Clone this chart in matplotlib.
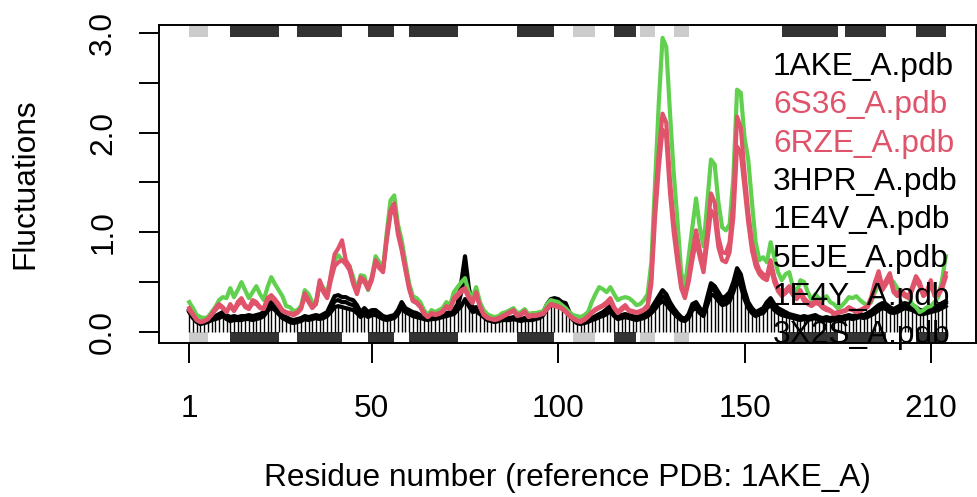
import numpy as np
import matplotlib.pyplot as plt
from matplotlib.patches import Rectangle

plt.rcParams['font.family'] = ['Liberation Sans', 'DejaVu Sans']

# fluctuaciones por posicion (indice de alineamiento 1..204)
green = [0.30, 0.24, 0.17, 0.15, 0.14, 0.15, 0.20, 0.25, 0.32, 0.35,
         0.34, 0.44, 0.35, 0.42, 0.50, 0.42, 0.34, 0.40, 0.46, 0.38,
         0.32, 0.45, 0.55, 0.48, 0.42, 0.36, 0.26, 0.25, 0.21, 0.22,
         0.26, 0.42, 0.38, 0.30, 0.28, 0.50, 0.44, 0.40, 0.55, 0.72,
         0.77, 0.72, 0.70, 0.66, 0.55, 0.42, 0.57, 0.56, 0.42, 0.55,
         0.76, 0.70, 0.64, 1.00, 1.32, 1.37, 1.08, 0.92, 0.70, 0.49,
         0.36, 0.34, 0.30, 0.22, 0.17, 0.22, 0.20, 0.22, 0.24, 0.30,
         0.27, 0.40, 0.45, 0.50, 0.54, 0.40, 0.35, 0.45, 0.30, 0.22,
         0.18, 0.16, 0.15, 0.16, 0.19, 0.20, 0.22, 0.24, 0.19, 0.20,
         0.23, 0.18, 0.19, 0.19, 0.20, 0.21, 0.28, 0.32, 0.31, 0.30,
         0.27, 0.24, 0.20, 0.17, 0.16, 0.15, 0.17, 0.20, 0.30, 0.38,
         0.45, 0.43, 0.40, 0.45, 0.38, 0.32, 0.34, 0.35, 0.34, 0.31,
         0.27, 0.28, 0.32, 0.38, 0.70, 1.50, 2.30, 2.95, 2.86, 2.20,
         1.60, 1.12, 0.60, 0.45, 0.75, 1.05, 1.34, 1.05, 0.86, 1.30,
         1.73, 1.68, 1.30, 1.05, 1.02, 1.08, 1.55, 2.43, 2.40, 1.95,
         1.73, 1.30, 0.90, 0.72, 0.75, 0.70, 0.90, 0.75, 0.60, 0.52,
         0.58, 0.60, 0.45, 0.40, 0.52, 0.50, 0.40, 0.32, 0.38, 0.34,
         0.32, 0.36, 0.30, 0.28, 0.24, 0.26, 0.30, 0.35, 0.34, 0.36,
         0.32, 0.29, 0.27, 0.30, 0.40, 0.48, 0.49, 0.50, 0.54, 0.50,
         0.44, 0.40, 0.38, 0.35, 0.28, 0.25, 0.20, 0.22, 0.25, 0.26,
         0.30, 0.35, 0.52, 0.76]

red1 = [0.24, 0.18, 0.12, 0.10, 0.11, 0.13, 0.18, 0.24, 0.28, 0.25,
        0.20, 0.28, 0.22, 0.30, 0.34, 0.27, 0.24, 0.32, 0.30, 0.25,
        0.24, 0.34, 0.37, 0.33, 0.28, 0.22, 0.20, 0.19, 0.18, 0.20,
        0.24, 0.39, 0.32, 0.25, 0.30, 0.52, 0.42, 0.35, 0.58, 0.78,
        0.84, 0.92, 0.72, 0.66, 0.50, 0.40, 0.55, 0.52, 0.45, 0.55,
        0.72, 0.66, 0.62, 0.95, 1.22, 1.29, 1.02, 0.85, 0.65, 0.45,
        0.32, 0.30, 0.26, 0.19, 0.15, 0.19, 0.18, 0.19, 0.21, 0.26,
        0.24, 0.34, 0.38, 0.42, 0.44, 0.36, 0.30, 0.40, 0.26, 0.18,
        0.15, 0.13, 0.13, 0.14, 0.16, 0.18, 0.20, 0.22, 0.17, 0.18,
        0.21, 0.16, 0.17, 0.17, 0.18, 0.19, 0.24, 0.28, 0.27, 0.26,
        0.24, 0.21, 0.17, 0.14, 0.12, 0.11, 0.13, 0.16, 0.20, 0.23,
        0.25, 0.27, 0.30, 0.34, 0.25, 0.20, 0.24, 0.27, 0.22, 0.21,
        0.20, 0.21, 0.23, 0.27, 0.55, 1.30, 1.80, 2.19, 2.10, 1.52,
        1.10, 0.79, 0.48, 0.36, 0.55, 0.80, 1.02, 0.82, 0.66, 1.00,
        1.39, 1.30, 0.95, 0.80, 0.79, 0.90, 1.30, 2.16, 2.05, 1.60,
        1.20, 0.90, 0.72, 0.62, 0.58, 0.56, 0.72, 0.55, 0.44, 0.39,
        0.42, 0.46, 0.40, 0.36, 0.42, 0.34, 0.30, 0.28, 0.31, 0.30,
        0.26, 0.24, 0.22, 0.19, 0.20, 0.21, 0.22, 0.25, 0.23, 0.21,
        0.22, 0.24, 0.26, 0.35, 0.50, 0.61, 0.45, 0.52, 0.59, 0.42,
        0.38, 0.42, 0.38, 0.36, 0.45, 0.56, 0.50, 0.38, 0.42, 0.52,
        0.38, 0.40, 0.46, 0.59]

red2 = [0.22, 0.17, 0.12, 0.10, 0.11, 0.13, 0.17, 0.22, 0.26, 0.24,
        0.20, 0.26, 0.21, 0.27, 0.31, 0.25, 0.23, 0.29, 0.28, 0.24,
        0.23, 0.32, 0.35, 0.31, 0.26, 0.21, 0.19, 0.18, 0.17, 0.19,
        0.23, 0.36, 0.30, 0.24, 0.28, 0.48, 0.40, 0.34, 0.52, 0.66,
        0.70, 0.72, 0.68, 0.62, 0.48, 0.38, 0.52, 0.50, 0.43, 0.52,
        0.70, 0.64, 0.60, 0.92, 1.18, 1.24, 0.98, 0.82, 0.62, 0.43,
        0.31, 0.29, 0.25, 0.18, 0.15, 0.18, 0.17, 0.18, 0.20, 0.25,
        0.23, 0.32, 0.36, 0.40, 0.42, 0.34, 0.29, 0.38, 0.25, 0.17,
        0.14, 0.13, 0.12, 0.13, 0.15, 0.17, 0.19, 0.21, 0.16, 0.17,
        0.20, 0.15, 0.16, 0.16, 0.17, 0.18, 0.23, 0.27, 0.26, 0.25,
        0.23, 0.20, 0.16, 0.13, 0.11, 0.10, 0.12, 0.15, 0.19, 0.22,
        0.24, 0.26, 0.28, 0.31, 0.24, 0.19, 0.22, 0.25, 0.21, 0.20,
        0.19, 0.20, 0.22, 0.25, 0.48, 1.15, 1.65, 2.03, 1.95, 1.40,
        1.00, 0.70, 0.44, 0.34, 0.50, 0.72, 0.92, 0.75, 0.60, 0.90,
        1.22, 1.15, 0.85, 0.72, 0.70, 0.80, 1.15, 1.86, 1.80, 1.45,
        1.10, 0.82, 0.66, 0.58, 0.54, 0.52, 0.66, 0.50, 0.41, 0.36,
        0.39, 0.43, 0.37, 0.33, 0.38, 0.31, 0.28, 0.26, 0.29, 0.28,
        0.24, 0.22, 0.21, 0.18, 0.19, 0.20, 0.21, 0.23, 0.22, 0.20,
        0.21, 0.23, 0.25, 0.32, 0.45, 0.55, 0.42, 0.48, 0.54, 0.40,
        0.36, 0.39, 0.36, 0.34, 0.42, 0.52, 0.46, 0.36, 0.39, 0.48,
        0.36, 0.37, 0.43, 0.55]

# estructuras en negro (1AKE es la de las barras verticales)
black1 = [0.20, 0.14, 0.10, 0.08, 0.09, 0.10, 0.12, 0.13, 0.14, 0.16,
          0.13, 0.11, 0.12, 0.12, 0.12, 0.13, 0.13, 0.12, 0.13, 0.14,
          0.16, 0.21, 0.25, 0.22, 0.18, 0.14, 0.12, 0.10, 0.09, 0.10,
          0.11, 0.13, 0.12, 0.13, 0.14, 0.13, 0.14, 0.16, 0.20, 0.25,
          0.26, 0.25, 0.24, 0.23, 0.22, 0.19, 0.15, 0.18, 0.15, 0.17,
          0.17, 0.15, 0.13, 0.12, 0.13, 0.14, 0.18, 0.25, 0.20, 0.18,
          0.16, 0.15, 0.14, 0.13, 0.12, 0.13, 0.13, 0.14, 0.15, 0.16,
          0.17, 0.18, 0.22, 0.26, 0.33, 0.26, 0.20, 0.21, 0.18, 0.15,
          0.12, 0.11, 0.10, 0.11, 0.12, 0.12, 0.12, 0.13, 0.12, 0.11,
          0.12, 0.12, 0.12, 0.13, 0.14, 0.17, 0.23, 0.27, 0.28, 0.27,
          0.25, 0.24, 0.17, 0.12, 0.09, 0.08, 0.09, 0.10, 0.12, 0.13,
          0.15, 0.16, 0.18, 0.21, 0.16, 0.13, 0.14, 0.15, 0.14, 0.13,
          0.12, 0.13, 0.14, 0.16, 0.19, 0.23, 0.28, 0.31, 0.28, 0.23,
          0.19, 0.15, 0.12, 0.11, 0.14, 0.22, 0.24, 0.19, 0.16, 0.27,
          0.38, 0.36, 0.31, 0.27, 0.28, 0.31, 0.40, 0.52, 0.46, 0.33,
          0.24, 0.19, 0.16, 0.18, 0.19, 0.24, 0.27, 0.22, 0.19, 0.17,
          0.16, 0.15, 0.14, 0.13, 0.12, 0.13, 0.12, 0.13, 0.14, 0.12,
          0.11, 0.12, 0.11, 0.12, 0.13, 0.12, 0.13, 0.14, 0.13, 0.14,
          0.15, 0.14, 0.15, 0.17, 0.19, 0.22, 0.24, 0.23, 0.20, 0.19,
          0.20, 0.22, 0.24, 0.23, 0.22, 0.20, 0.18, 0.18, 0.19, 0.20,
          0.21, 0.22, 0.24, 0.26]

black2 = [0.22, 0.16, 0.12, 0.10, 0.11, 0.12, 0.14, 0.16, 0.18, 0.20,
          0.17, 0.15, 0.16, 0.15, 0.16, 0.16, 0.17, 0.16, 0.17, 0.18,
          0.20, 0.26, 0.30, 0.27, 0.22, 0.18, 0.15, 0.13, 0.12, 0.13,
          0.14, 0.16, 0.15, 0.16, 0.17, 0.16, 0.18, 0.20, 0.28, 0.36,
          0.37, 0.35, 0.35, 0.33, 0.32, 0.27, 0.20, 0.24, 0.20, 0.22,
          0.22, 0.19, 0.16, 0.15, 0.16, 0.17, 0.22, 0.30, 0.24, 0.22,
          0.20, 0.19, 0.17, 0.16, 0.15, 0.17, 0.16, 0.17, 0.18, 0.19,
          0.20, 0.22, 0.28, 0.50, 0.76, 0.45, 0.24, 0.25, 0.22, 0.18,
          0.15, 0.13, 0.12, 0.13, 0.14, 0.15, 0.14, 0.15, 0.14, 0.13,
          0.14, 0.15, 0.14, 0.15, 0.17, 0.20, 0.28, 0.33, 0.34, 0.33,
          0.30, 0.29, 0.20, 0.14, 0.11, 0.10, 0.11, 0.12, 0.14, 0.16,
          0.18, 0.20, 0.23, 0.27, 0.20, 0.16, 0.17, 0.18, 0.17, 0.16,
          0.15, 0.16, 0.18, 0.20, 0.24, 0.30, 0.36, 0.42, 0.38, 0.30,
          0.24, 0.19, 0.15, 0.13, 0.18, 0.28, 0.30, 0.24, 0.20, 0.35,
          0.49, 0.46, 0.40, 0.34, 0.36, 0.40, 0.50, 0.64, 0.58, 0.42,
          0.30, 0.24, 0.20, 0.22, 0.24, 0.30, 0.34, 0.28, 0.24, 0.22,
          0.20, 0.18, 0.17, 0.16, 0.15, 0.16, 0.15, 0.16, 0.17, 0.15,
          0.14, 0.15, 0.14, 0.15, 0.16, 0.15, 0.16, 0.17, 0.16, 0.17,
          0.18, 0.17, 0.19, 0.21, 0.24, 0.27, 0.29, 0.28, 0.25, 0.23,
          0.25, 0.27, 0.29, 0.28, 0.27, 0.25, 0.22, 0.22, 0.23, 0.24,
          0.25, 0.27, 0.29, 0.31]

black3 = [0.21, 0.15, 0.11, 0.09, 0.10, 0.11, 0.13, 0.15, 0.16, 0.18,
          0.15, 0.13, 0.14, 0.14, 0.14, 0.15, 0.15, 0.14, 0.15, 0.16,
          0.18, 0.24, 0.28, 0.25, 0.20, 0.16, 0.13, 0.12, 0.11, 0.12,
          0.13, 0.15, 0.14, 0.15, 0.16, 0.15, 0.16, 0.18, 0.24, 0.31,
          0.32, 0.30, 0.30, 0.28, 0.27, 0.23, 0.18, 0.21, 0.18, 0.20,
          0.20, 0.17, 0.15, 0.14, 0.15, 0.16, 0.20, 0.28, 0.22, 0.20,
          0.18, 0.17, 0.16, 0.15, 0.14, 0.15, 0.15, 0.16, 0.17, 0.18,
          0.19, 0.20, 0.25, 0.40, 0.58, 0.38, 0.22, 0.23, 0.20, 0.17,
          0.14, 0.12, 0.11, 0.12, 0.13, 0.14, 0.13, 0.14, 0.13, 0.12,
          0.13, 0.14, 0.13, 0.14, 0.16, 0.19, 0.26, 0.30, 0.31, 0.30,
          0.28, 0.27, 0.19, 0.13, 0.10, 0.09, 0.10, 0.11, 0.13, 0.15,
          0.17, 0.18, 0.21, 0.24, 0.18, 0.15, 0.16, 0.17, 0.16, 0.15,
          0.14, 0.15, 0.16, 0.18, 0.22, 0.27, 0.32, 0.36, 0.33, 0.27,
          0.22, 0.17, 0.14, 0.12, 0.16, 0.25, 0.27, 0.22, 0.18, 0.31,
          0.44, 0.41, 0.36, 0.31, 0.32, 0.36, 0.45, 0.58, 0.52, 0.38,
          0.27, 0.22, 0.18, 0.20, 0.22, 0.27, 0.31, 0.25, 0.22, 0.20,
          0.18, 0.17, 0.16, 0.15, 0.14, 0.15, 0.14, 0.15, 0.16, 0.14,
          0.13, 0.14, 0.13, 0.14, 0.15, 0.14, 0.15, 0.16, 0.15, 0.16,
          0.17, 0.16, 0.17, 0.19, 0.22, 0.25, 0.27, 0.26, 0.23, 0.21,
          0.23, 0.25, 0.27, 0.26, 0.25, 0.23, 0.20, 0.20, 0.21, 0.22,
          0.23, 0.25, 0.27, 0.29]

# estructura secundaria (inicio, fin)
helices = [(12, 25), (30, 42), (49, 56), (60, 73), (89, 99), (115, 121),
           (160, 175), (177, 188), (196, 204)]
strands = [(1, 6), (104, 110), (122, 126), (131, 135)]

tick_pos = [1, 50, 100, 150, 200]
tick_lab = ["1", "50", "100", "150", "210"]

names = ["1AKE_A.pdb", "6S36_A.pdb", "6RZE_A.pdb", "3HPR_A.pdb",
         "1E4V_A.pdb", "5EJE_A.pdb", "1E4Y_A.pdb", "3X2S_A.pdb"]
name_cols = ["black", "#DF536B", "#DF536B", "black",
             "black", "black", "black", "black"]

fs = 22.8
fig = plt.figure(figsize=(9.77, 4.97), dpi=100)
ax = fig.add_axes([159/977, 1 - 343/497, 817/977, 318/497])

x = np.arange(1, len(green) + 1)
ymin, ymax = -0.11, 3.079

# barras de estructura secundaria arriba y abajo
for lista, col in ((helices, "#333333"), (strands, "#CCCCCC")):
    for s, e in lista:
        ax.add_patch(Rectangle((s, 2.962), e - s, ymax - 2.962, color=col, lw=0, zorder=1))
        ax.add_patch(Rectangle((s, ymin), e - s, 0 - ymin, color=col, lw=0, zorder=1))

ax.vlines(x, 0, black1, colors="black", lw=1, zorder=2)
for b in (black1, black3, black2):
    ax.plot(x, b, color="black", lw=3, zorder=3)
ax.plot(x, green, color="#61D04F", lw=3, zorder=4)
ax.plot(x, red2, color="#DF536B", lw=3, zorder=5)
ax.plot(x, red1, color="#DF536B", lw=3, zorder=5)

for k, (nm, c) in enumerate(zip(names, name_cols)):
    base = 75 + k * 38.3
    ax.text((773 - 159) / 817, (343 - base) / 318, nm, transform=ax.transAxes,
            color=c, fontsize=fs, ha="left", va="baseline", zorder=6)

ax.set_xlim(-7.12, 212.12)
ax.set_ylim(ymin, ymax)
ax.set_xticks(tick_pos)
ax.set_xticklabels(tick_lab)
ax.set_yticks([0, 0.5, 1.0, 1.5, 2.0, 2.5, 3.0])
ax.set_yticklabels(["0.0", "", "1.0", "", "2.0", "", "3.0"], rotation=90, va="center")
ax.tick_params(direction="out", length=14.4, width=1.4, labelsize=fs)
ax.tick_params(axis="x", pad=22)
ax.tick_params(axis="y", pad=15)
for sp in ax.spines.values():
    sp.set_linewidth(1.4)

ax.set_xlabel("Residue number (reference PDB: 1AKE_A)", fontsize=fs)
ax.set_ylabel("Fluctuations", fontsize=fs)
ax.xaxis.set_label_coords(0.5, (343 - 478) / 318)
ax.xaxis.label.set_va("center")
ax.yaxis.set_label_coords((25 - 159) / 817, 0.5)
ax.yaxis.label.set_va("center")

plt.savefig("out.png", dpi=100)
